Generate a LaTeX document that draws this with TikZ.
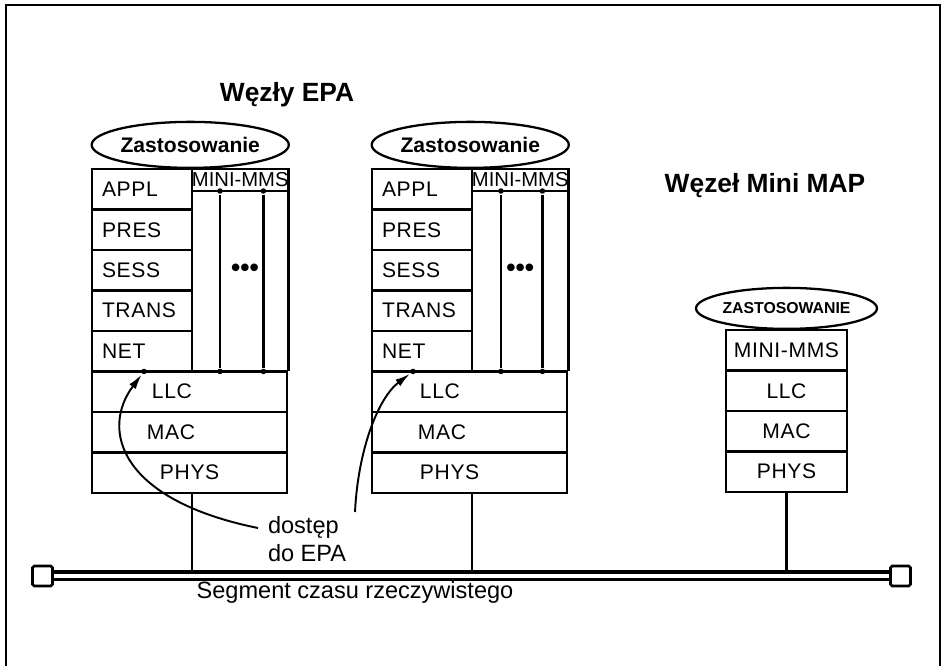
\documentclass[tikz,border=0pt]{standalone}
\usepackage{fontspec}
\setmainfont{Liberation Sans}
\newfontfamily\layerfont[LetterSpace=3]{Liberation Sans}
\usetikzlibrary{positioning}
\usetikzlibrary{shapes.geometric}
\usetikzlibrary{calc}
\usetikzlibrary{arrows.meta}
\def\rowHeight{0.81}
\def\layerWidth{2.0}
\def\miniWidth{1.9}
\tikzset{% protocol stack styles
  layer/.style      = {draw, rectangle, line width=1.3pt, outer sep=0pt, inner xsep=0.2cm, inner ysep=0pt,
    minimum height=\rowHeight cm, text width=1.6cm, align=left, font=\layerfont\fontsize{12}{14}\selectfont},
  wide layer/.style = {layer, text width=3.5cm},
  mini layer/.style = {layer, inner xsep=0.05cm, text width=2.32cm, align=center},
  mini head/.style  = {draw, rectangle, line width=1.3pt, outer sep=0pt, inner sep=0pt,
    minimum width=\miniWidth cm, minimum height=0.44cm, font=\fontsize{11.5}{12}\selectfont},
  app/.style        = {draw, ellipse, line width=1.3pt, inner sep=0pt, minimum width=3cm,
    minimum height=0.92cm, fill=white, font=\bfseries\fontsize{12}{14}\selectfont},
  dot/.style        = {circle, fill=black, inner sep=0pt, minimum size=0.11cm},
  term/.style       = {draw, rectangle, line width=1.5pt, rounded corners=1pt, minimum size=0.4cm, fill=white},
  title/.style      = {font=\bfseries\fontsize{15}{18}\selectfont},
  note/.style       = {font=\fontsize{13.4}{15.9}\selectfont, align=left},
  access/.style     = {-{Latex[length=3mm,width=1.6mm]}, line width=1.1pt},
}
\begin{document}
\begin{tikzpicture}[x=0.02cm, y=-0.02cm, line width=1.3pt]
\useasboundingbox (0,0) rectangle (945,666);

        \draw[line width=1.5pt] (6,666) -- (6,5) -- (940,5) -- (940,666);

        \node[title] (TitleEPA) at (287,95) {Węzły EPA};
        \node[title] (TitleMAP) at (765,186) {Węzeł Mini MAP};

        % first EPA node
        \node[layer, anchor=north west] at (92,169) (APPL1) {APPL};
        \node[layer, below=0cm of APPL1] (PRES1) {PRES};
        \node[layer, below=0cm of PRES1] (SESS1) {SESS};
        \node[layer, below=0cm of SESS1] (TRANS1) {TRANS};
        \node[layer, below=0cm of TRANS1] (NET1) {NET};

        \node[mini head, anchor=north west] at (APPL1.north east) (MiniHead1) {MINI-MMS};
        \draw (MiniHead1.south east) -- (MiniHead1.south east |- NET1.south);

        \node[wide layer, anchor=north west] at (NET1.south west) (LLC1) {\hspace*{1.0cm}LLC};
        \node[wide layer, below=0cm of LLC1] (MAC1) {\hspace*{0.9cm}MAC};
        \node[wide layer, below=0cm of MAC1] (PHYS1) {\hspace*{1.16cm}PHYS};

        \node[dot] (TopA1) at ($(MiniHead1.south west)!0.29!(MiniHead1.south east)$) {};
        \node[dot] (TopB1) at ($(MiniHead1.south west)!0.74!(MiniHead1.south east)$) {};
        \node[dot] (BotA1) at (TopA1 |- LLC1.north) {};
        \node[dot] (BotB1) at (TopB1 |- LLC1.north) {};
        \draw (TopA1) -- (BotA1);
        \draw (TopB1) -- (BotB1);

        \node[font=\bfseries\fontsize{15}{15}\selectfont] (More1) at ($(SESS1.east)!0.55!(SESS1.east -| MiniHead1.east)$) {•••};

        \node[app, anchor=south] (App1) at ($(APPL1.north west)!0.5!(MiniHead1.north east)$) {Zastosowanie};

        \node[dot] (Acc1) at ([xshift=1.04cm]NET1.south west) {};

        % second EPA node
        \node[layer, anchor=north west] at (372,169) (APPL2) {APPL};
        \node[layer, below=0cm of APPL2] (PRES2) {PRES};
        \node[layer, below=0cm of PRES2] (SESS2) {SESS};
        \node[layer, below=0cm of SESS2] (TRANS2) {TRANS};
        \node[layer, below=0cm of TRANS2] (NET2) {NET};

        \node[mini head, anchor=north west] at (APPL2.north east) (MiniHead2) {MINI-MMS};
        \draw (MiniHead2.south east) -- (MiniHead2.south east |- NET2.south);

        \node[wide layer, anchor=north west] at (NET2.south west) (LLC2) {\hspace*{0.76cm}LLC};
        \node[wide layer, below=0cm of LLC2] (MAC2) {\hspace*{0.72cm}MAC};
        \node[wide layer, below=0cm of MAC2] (PHYS2) {\hspace*{0.76cm}PHYS};

        \node[dot] (TopA2) at ($(MiniHead2.south west)!0.3!(MiniHead2.south east)$) {};
        \node[dot] (TopB2) at ($(MiniHead2.south west)!0.73!(MiniHead2.south east)$) {};
        \node[dot] (BotA2) at (TopA2 |- LLC2.north) {};
        \node[dot] (BotB2) at (TopB2 |- LLC2.north) {};
        \draw (TopA2) -- (BotA2);
        \draw (TopB2) -- (BotB2);

        \node[font=\bfseries\fontsize{15}{15}\selectfont] (More2) at ($(SESS2.east)!0.5!(SESS2.east -| MiniHead2.east)$) {•••};

        \node[app, anchor=south] (App2) at ($(APPL2.north west)!0.5!(MiniHead2.north east)$) {Zastosowanie};

        \node[dot] (Acc2) at ([xshift=0.82cm]NET2.south west) {};

        % Mini MAP node
        \node[mini layer, anchor=north west] at (726,330) (MiniMMS3) {MINI-MMS};
        \node[mini layer, below=0cm of MiniMMS3] (LLC3) {LLC};
        \node[mini layer, below=0cm of LLC3] (MAC3) {MAC};
        \node[mini layer, below=0cm of MAC3] (PHYS3) {PHYS};

        \node[app, anchor=south, minimum width=2.56cm, minimum height=0.82cm,
          font=\bfseries\fontsize{9}{10}\selectfont] (App3) at (MiniMMS3.north) {ZASTOSOWANIE};

        % real time segment
        \node[term] (TermL) at (42.5,576) {};
        \node[term] (TermR) at (900.5,576) {};
        \coordinate (BusTop) at ([yshift=0.075cm]TermL.east);
        \draw[line width=2.3pt] (BusTop) -- ([yshift=0.075cm]TermR.west);
        \draw[line width=1.8pt] ([yshift=-0.075cm]TermL.east) -- ([yshift=-0.075cm]TermR.west);

        \draw (PHYS1.south -| NET1.east) -- (BusTop -| NET1.east);
        \draw (PHYS2.south -| NET2.east) -- (BusTop -| NET2.east);
        \draw (PHYS3.south) -- (BusTop -| PHYS3.south);

        \node[note] (Segment) at (355,592) {Segment czasu rzeczywistego};

        \node[note, anchor=west] (Access) at (261,539) {dostęp\\do EPA};
        \coordinate (AccFrom1) at (258,528);
        \coordinate (AccFrom2) at (355,512);

        \draw[access] (AccFrom1) .. controls (120,500) and (100,430) .. (Acc1);
        \draw[access] (AccFrom2) .. controls (358,450) and (378,398) .. (Acc2);

\end{tikzpicture}
\end{document}
